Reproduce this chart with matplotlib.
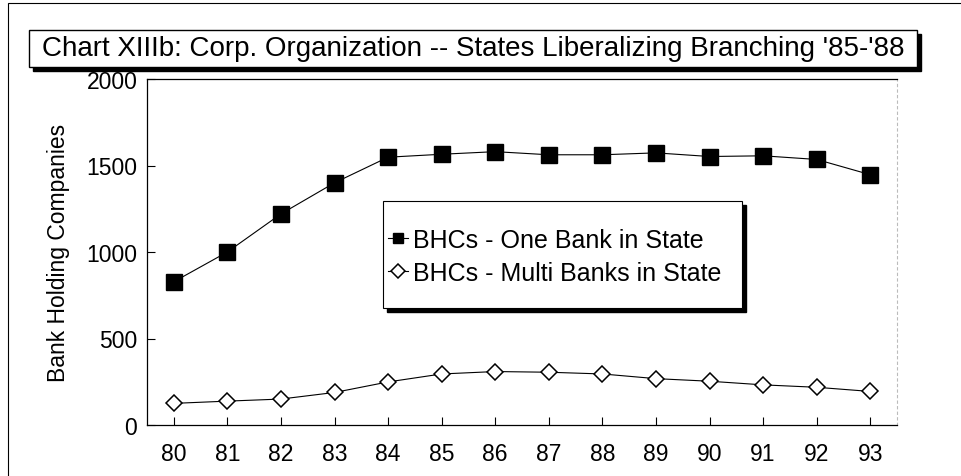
import numpy as np
import matplotlib.pyplot as plt
from matplotlib.patches import Rectangle

plt.rcParams['font.family'] = ['Liberation Sans', 'DejaVu Sans']

years = [80, 81, 82, 83, 84, 85, 86, 87, 88, 89, 90, 91, 92, 93]
one_bank = [828, 1000, 1220, 1400, 1548, 1565, 1580, 1562, 1562, 1573, 1552, 1556, 1535, 1447]
multi_banks = [125, 138, 150, 188, 249, 295, 309, 305, 295, 268, 253, 232, 218, 194]
yticks = [0, 500, 1000, 1500, 2000]

title = "Chart XIIIb: Corp. Organization -- States Liberalizing Branching '85-'88"

W, H = 962, 477
fig = plt.figure(figsize=(W / 100, H / 100), dpi=100)
ax = fig.add_axes([147 / W, 1 - 426 / H, 750 / W, 346 / H])

ax.plot(years, one_bank, color='black', lw=0.8, marker='s', ms=11,
        mfc='black', mec='black', label='BHCs - One Bank in State')
ax.plot(years, multi_banks, color='black', lw=0.8, marker='D', ms=8.5,
        mfc='white', mec='black', mew=1.1, label='BHCs - Multi Banks in State')

ax.set_xlim(79.5, 93.5)
ax.set_ylim(0, 2000)
ax.set_xticks(years)
ax.set_xticklabels([str(y) for y in years])
ax.set_yticks(yticks)
ax.tick_params(direction='in', length=6, width=0.8, labelsize=16.5)
ax.tick_params(axis='x', pad=12)
ax.tick_params(axis='y', pad=7)
ax.set_ylabel('Bank Holding Companies', fontsize=16.5, labelpad=12)

for s in ['left', 'bottom', 'top']:
    ax.spines[s].set_linewidth(0.9)
ax.spines['right'].set_color('#bbbbbb')
ax.spines['right'].set_linestyle((0, (2, 3)))
ax.spines['right'].set_linewidth(0.8)

# legend frame drawn by hand (box with drop shadow), legend itself frameless
lx0, ly0, lx1, ly1 = 383, 202, 742, 309
fig.patches.append(Rectangle(((lx0 + 4) / W, 1 - (ly1 + 4) / H), (lx1 - lx0) / W, (ly1 - ly0) / H,
                             transform=fig.transFigure, facecolor='black', edgecolor='black', zorder=3))
fig.patches.append(Rectangle((lx0 / W, 1 - ly1 / H), (lx1 - lx0) / W, (ly1 - ly0) / H,
                             transform=fig.transFigure, facecolor='white', edgecolor='black',
                             lw=0.8, zorder=4))
leg = fig.legend(loc='upper left', bbox_to_anchor=(388 / W, 1 - 229 / H),
                 fontsize=18, frameon=False, borderpad=0, handlelength=0.8,
                 handletextpad=0.2, labelspacing=0.35, borderaxespad=0)
leg.set_zorder(5)
for h in leg.legend_handles:
    h.set_markersize(7)

# title box with shadow
x0, y0, x1, y1 = 29, 31, 917, 68
fig.patches.append(Rectangle(((x0 + 4) / W, 1 - (y1 + 4) / H), (x1 - x0) / W, (y1 - y0) / H,
                             transform=fig.transFigure, facecolor='black', edgecolor='black', zorder=1))
fig.patches.append(Rectangle((x0 / W, 1 - y1 / H), (x1 - x0) / W, (y1 - y0) / H,
                             transform=fig.transFigure, facecolor='white', edgecolor='black',
                             lw=1.0, zorder=2))
fig.text((x0 + x1) / 2 / W, 1 - (y0 + y1) / 2 / H, title, ha='center', va='center',
         fontsize=20, zorder=3)

# outer page border
fig.patches.append(Rectangle((8 / W, -0.01), 1.05, 1 - 4 / H + 0.01, transform=fig.transFigure,
                             facecolor='none', edgecolor='black', lw=0.8, zorder=0))

fig.savefig('out.png', dpi=100)
